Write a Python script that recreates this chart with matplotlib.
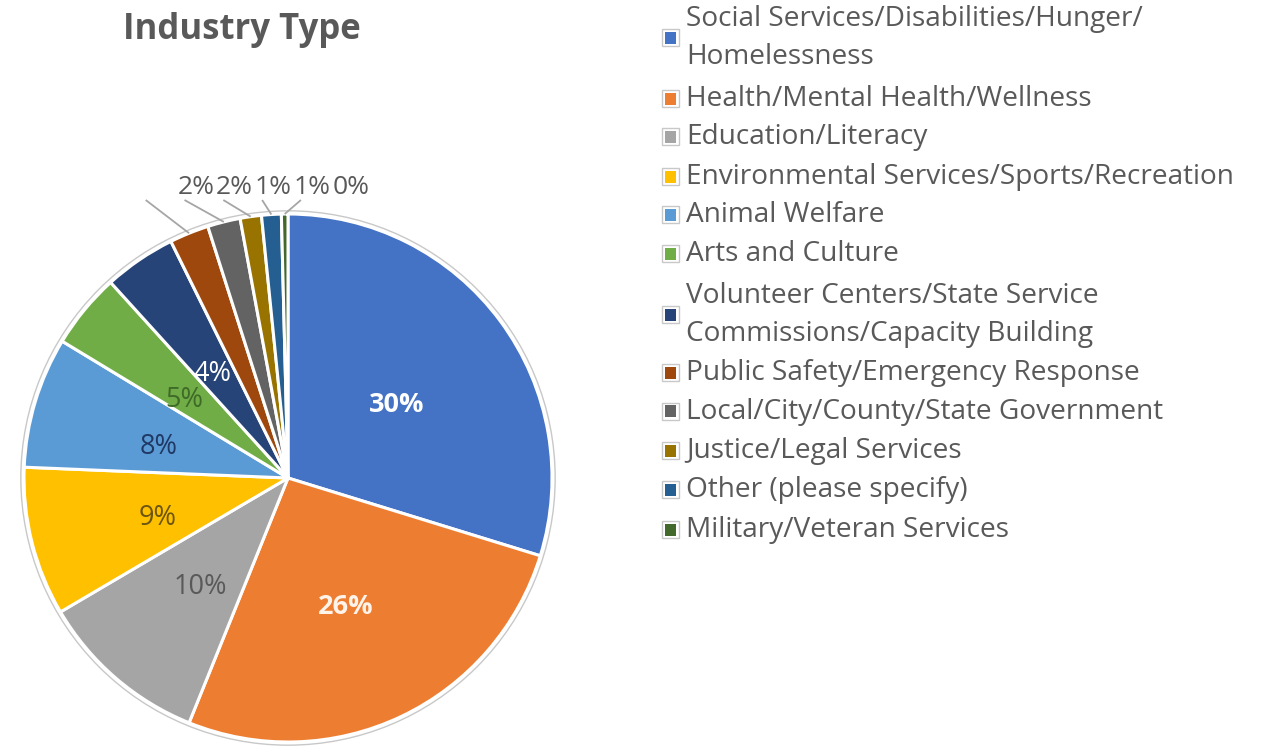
import matplotlib
matplotlib.use("Agg")
import matplotlib.pyplot as plt
from matplotlib.patches import Circle, Rectangle
import numpy as np

# Survey shares by industry type (percent)
categories = [
    "Social Services/Disabilities/Hunger/\nHomelessness",
    "Health/Mental Health/Wellness",
    "Education/Literacy",
    "Environmental Services/Sports/Recreation",
    "Animal Welfare",
    "Arts and Culture",
    "Volunteer Centers/State Service\nCommissions/Capacity Building",
    "Public Safety/Emergency Response",
    "Local/City/County/State Government",
    "Justice/Legal Services",
    "Other (please specify)",
    "Military/Veteran Services",
]
shares = [29.7, 26.3, 10.4, 9.1, 8.0, 4.6, 4.4, 2.4, 2.0, 1.3, 1.2, 0.4]

colors = ["#4472C4", "#ED7D31", "#A5A5A5", "#FFC000", "#5B9BD5", "#70AD47",
          "#264478", "#9E480E", "#636363", "#997300", "#255E91", "#43682B"]
label_colors = ["#FFFFFF", "#FFF3EA", "#595959", "#6B5510", "#1F3864", "#3F6A28",
                "#FFFFFF", "#595959", "#595959", "#595959", "#595959", "#595959"]

TEXT = "#595959"
FONT = ["Open Sans", "DejaVu Sans"]
W, H = 1265, 747
plt.rcParams["font.family"] = FONT

fig = plt.figure(figsize=(W / 100, H / 100), dpi=100)
fig.patch.set_facecolor("white")

# Pie axes: center and radius in pixels
cx, cy, rad = 288, 478, 264
ax_w = 580
ax = fig.add_axes([0, 0, ax_w / W, 1])
ax.axis("off")

wedges, _ = ax.pie(shares, colors=colors, startangle=90, counterclock=False,
                   radius=1.0, wedgeprops=dict(edgecolor="white", linewidth=2.2))
ax.set_xlim(-cx / rad, (ax_w - cx) / rad)
ax.set_ylim(-(H - cy) / rad, cy / rad)
ax.set_aspect("auto")
ax.add_patch(Circle((0, 0), 1.012, fill=False, edgecolor="#C8C8C8", linewidth=1.0))

total = sum(shares)
cum = np.cumsum([0] + shares[:-1])
small_idx = [i for i, s in enumerate(shares) if s < 3]

LABEL_SIZE = 19.5
# Inside labels
for i, (s, c0) in enumerate(zip(shares, cum)):
    if i in small_idx:
        continue
    mid = np.deg2rad(90 - 360 * (c0 + s / 2) / total)
    r = 0.51
    bold = i < 2
    ax.text(r * np.cos(mid), r * np.sin(mid) - 0.028, f"{round(s)}%", ha="center",
            va="center", fontsize=LABEL_SIZE, color=label_colors[i],
            fontweight="bold" if bold else "normal")

# Small slices: labels in a row above the pie with leader lines
row_y = 1.102
step = 0.147
last_x = 0.239
for k, i in enumerate(small_idx):
    lx = last_x - step * (len(small_idx) - 1 - k)
    ax.text(lx, row_y, f"{round(shares[i])}%", ha="center", va="center",
            fontsize=19, color=label_colors[i])
    mid = np.deg2rad(90 - 360 * (cum[i] + shares[i] / 2) / total)
    ex, ey = 1.0 * np.cos(mid), 1.0 * np.sin(mid)
    ax.plot([lx - 0.19, ex], [1.053, ey], color="#A6A6A6", linewidth=1.3,
            solid_capstyle="butt")

# Title
fig.text(242 / W, 1 - 30 / H, "Industry Type", ha="center", va="center",
         fontsize=25, fontweight="bold", color=TEXT)

# Legend
entry_y = [38, 99, 137, 177, 215, 254, 315, 373, 412, 451, 490, 530]
line_gap = 38
for name, col, y in zip(categories, colors, entry_y):
    lines = name.split("\n")
    n = len(lines)
    for j, ln in enumerate(lines):
        yy = y + (j - (n - 1) / 2) * line_gap
        fig.text(686 / W, 1 - yy / H, ln, ha="left", va="center",
                 fontsize=20.2, color=TEXT)
    fig.patches.append(Rectangle((662 / W, 1 - (y + 8) / H), 17 / W, 17 / H,
                                 transform=fig.transFigure, facecolor="white",
                                 edgecolor="#C8C8C8", linewidth=1.0))
    fig.patches.append(Rectangle((665 / W, 1 - (y + 5.5) / H), 11 / W, 12 / H,
                                 transform=fig.transFigure, facecolor=col,
                                 edgecolor="none"))

fig.savefig("out.png", dpi=100, facecolor="white")
